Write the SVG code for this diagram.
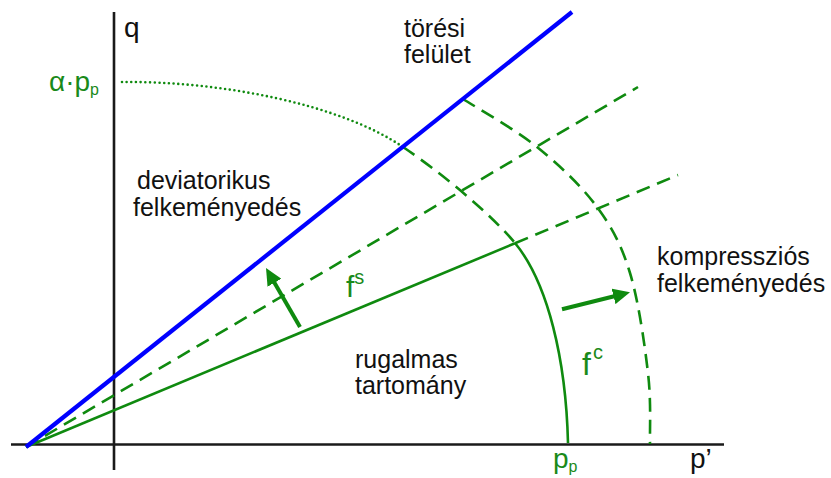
<svg xmlns="http://www.w3.org/2000/svg" width="831" height="478" viewBox="0 0 831 478">
<style>
.ax{stroke:#1a1a1a;stroke-width:2.6;fill:none}
.g{stroke:#0f8a0f;stroke-width:2.6;fill:none}
.gd{stroke-dasharray:14 8}
.dot{stroke-dasharray:0 4.7;stroke-linecap:round;stroke-width:2.6}
.blue{stroke:#0000ff;stroke-width:4.2;fill:none}
.arr{stroke:#0f8a0f;stroke-width:4;fill:none}
text{font-family:"Liberation Sans",Arial,sans-serif}
.lbl{font-size:25px;fill:#111}
.axl{font-size:28px;fill:#111}
.gt{fill:#1a8a1a}
</style>
<defs>
<marker id="ah" markerUnits="userSpaceOnUse" markerWidth="17" markerHeight="16" viewBox="0 0 17 16" refX="7" refY="8" orient="auto">
<path d="M0,0 L17,8 L0,16 z" fill="#0f8a0f"/>
</marker>
</defs>
<g id="axes">
<line class="ax" x1="11" y1="444.5" x2="724" y2="444.5"/>
<line class="ax" x1="114" y1="12" x2="114" y2="470"/>
</g>
<g id="connectors">
<line id="fs-solid" class="g" x1="26" y1="447" x2="515" y2="243.3"/>
<line id="fs-dash-outer" class="g gd" x1="515" y1="243.3" x2="678" y2="175"/>
<line id="fs-dash-mid" class="g gd" x1="26" y1="447" x2="638" y2="87"/>
<path id="cap-dotted" class="g dot" d="M122,82 C220,81 340,104 403,147"/>
<path id="cap-dashed" class="g gd" d="M403,147 C440,172 490,213 515,243"/>
<path id="cap-solid" class="g" d="M515,243 C548,283 566,360 568,443"/>
<path id="cap-outer" class="g gd" d="M463,99 C475.3,107 514.7,129 537,147 C559.3,165 581.5,186 597,207 C612.5,228 621.5,245.3 630,273 C638.5,300.7 644.7,344.8 648,373 C651.3,401.2 649.7,430.5 650,444"/>
<line id="failure" class="blue" x1="26" y1="447" x2="572" y2="12"/>
<line id="arrow-s" class="arr" x1="300" y1="327" x2="271" y2="276.7" marker-end="url(#ah)"/>
<line id="arrow-c" class="arr" x1="562" y1="309.3" x2="620.3" y2="294.7" marker-end="url(#ah)"/>
</g>
<g id="labels">
<text x="124" y="37" class="axl">q</text>
<text x="49" y="91" class="axl gt">α·p<tspan font-size="16" dy="4">p</tspan></text>
<text x="553" y="468" class="axl gt">p<tspan font-size="16" dy="4">p</tspan></text>
<text x="690" y="468" class="axl">p’</text>
<text x="404" y="36.5" class="lbl">törési</text>
<text x="404" y="63" class="lbl">felület</text>
<text x="137" y="189" class="lbl">deviatorikus</text>
<text x="133" y="216" class="lbl">felkeményedés</text>
<text x="657" y="265" class="lbl">kompressziós</text>
<text x="657" y="292" class="lbl">felkeményedés</text>
<text x="355" y="368" class="lbl">rugalmas</text>
<text x="355" y="394" class="lbl">tartomány</text>
<text x="346" y="297" font-size="30" class="gt">f<tspan font-size="20" dy="-13">s</tspan></text>
<text x="582" y="375" font-size="32" class="gt">f<tspan font-size="20" dx="2" dy="-16">c</tspan></text>
</g>
</svg>
